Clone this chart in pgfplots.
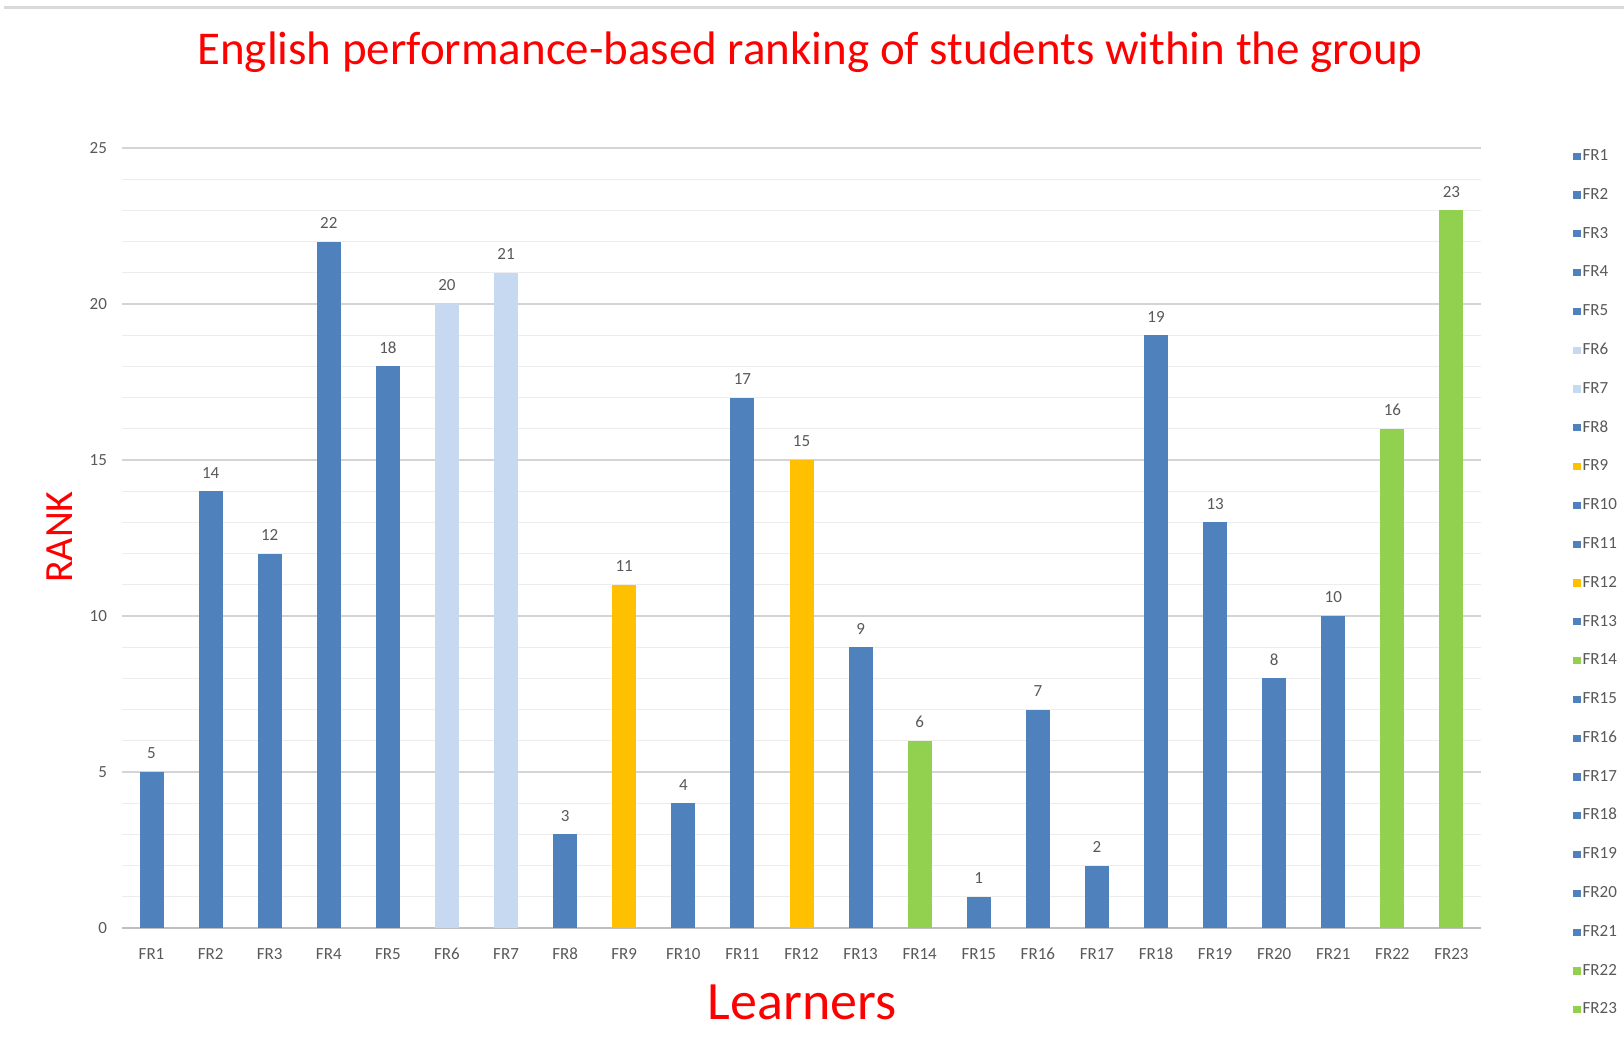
\documentclass[border=0pt]{standalone}
\usepackage{fontspec}
\setmainfont{Carlito}
\usepackage{pgfplots}
\pgfplotsset{compat=1.18}
\definecolor{barblue}{HTML}{4F81BD}
\definecolor{barlight}{HTML}{C6D9F1}
\definecolor{baryellow}{HTML}{FFC000}
\definecolor{bargreen}{HTML}{92D050}
\definecolor{txtgray}{HTML}{595959}
\definecolor{titlered}{HTML}{FF0000}
\begin{document}
\begin{tikzpicture}
\path[use as bounding box] (0,0) rectangle (812pt,522pt);
\draw[black!15, line width=1.5pt] (2pt,518pt) -- (812pt,518pt);
\node[text=titlered, font=\fontsize{23.5}{27}\selectfont] at (405pt,496pt) {English performance-based ranking of students within the group};
\node[text=titlered, font=\fontsize{20}{24}\selectfont, rotate=90] at (30pt,253.5pt) {RANK};
\node[text=titlered, font=\fontsize{27}{30}\selectfont] at (401pt,21pt) {Learners};
\begin{axis}[
  at={(61pt,58pt)}, anchor=south west,
  scale only axis, width=679.5pt, height=390pt,
  xmin=0.5, xmax=23.5, ymin=0, ymax=25,
  ybar, bar width=12pt,
  axis lines*=left,
  x axis line style={draw=black!25, line width=0.8pt},
  y axis line style={draw=none},
  xtick={1,...,23},
  xticklabels={FR1,FR2,FR3,FR4,FR5,FR6,FR7,FR8,FR9,FR10,FR11,FR12,FR13,FR14,FR15,FR16,FR17,FR18,FR19,FR20,FR21,FR22,FR23},
  x tick style={draw=none},
  extra x ticks={0.5,1.5,...,23.5},
  extra x tick labels={},
  extra x tick style={tick style={draw=black!25, line width=0.8pt}, major tick length=4pt, tick align=outside, grid=none},
  ytick={0,5,...,25},
  minor ytick={1,...,24},
  y tick style={draw=none},
  ymajorgrids, yminorgrids,
  major grid style={draw=black!17, line width=0.8pt},
  minor grid style={draw=black!7, line width=0.6pt},
  /pgf/number format/assume math mode=true,
  ticklabel style={font=\fontsize{8.5}{10}\selectfont, text=txtgray},
  yticklabel style={xshift=-4pt},
  xticklabel style={yshift=-2pt, text height=6pt, text depth=0pt},
  nodes near coords,
  every node near coord/.append style={font=\fontsize{8.5}{10}\selectfont, text=txtgray, yshift=3pt},
  every axis plot/.append style={bar shift=0pt, draw=none,
    legend image code/.code={\fill[##1] (0pt,-2.2pt) rectangle (3.6pt,1.4pt);}},
  legend style={at={(1.0677,1.0)}, anchor=north west, draw=none, fill=none, inner sep=0pt,
    font=\fontsize{8.5}{10}\selectfont, text=txtgray, row sep=12.4pt,
    nodes={inner sep=1pt, text height=5pt, text depth=0pt}},
  legend cell align=left,
]
\addplot[fill=barblue] coordinates {(1,5)};
\addplot[fill=barblue] coordinates {(2,14)};
\addplot[fill=barblue] coordinates {(3,12)};
\addplot[fill=barblue] coordinates {(4,22)};
\addplot[fill=barblue] coordinates {(5,18)};
\addplot[fill=barlight] coordinates {(6,20)};
\addplot[fill=barlight] coordinates {(7,21)};
\addplot[fill=barblue] coordinates {(8,3)};
\addplot[fill=baryellow] coordinates {(9,11)};
\addplot[fill=barblue] coordinates {(10,4)};
\addplot[fill=barblue] coordinates {(11,17)};
\addplot[fill=baryellow] coordinates {(12,15)};
\addplot[fill=barblue] coordinates {(13,9)};
\addplot[fill=bargreen] coordinates {(14,6)};
\addplot[fill=barblue] coordinates {(15,1)};
\addplot[fill=barblue] coordinates {(16,7)};
\addplot[fill=barblue] coordinates {(17,2)};
\addplot[fill=barblue] coordinates {(18,19)};
\addplot[fill=barblue] coordinates {(19,13)};
\addplot[fill=barblue] coordinates {(20,8)};
\addplot[fill=barblue] coordinates {(21,10)};
\addplot[fill=bargreen] coordinates {(22,16)};
\addplot[fill=bargreen] coordinates {(23,23)};
\legend{FR1,FR2,FR3,FR4,FR5,FR6,FR7,FR8,FR9,FR10,FR11,FR12,FR13,FR14,FR15,FR16,FR17,FR18,FR19,FR20,FR21,FR22,FR23}
\end{axis}
\end{tikzpicture}
\end{document}
